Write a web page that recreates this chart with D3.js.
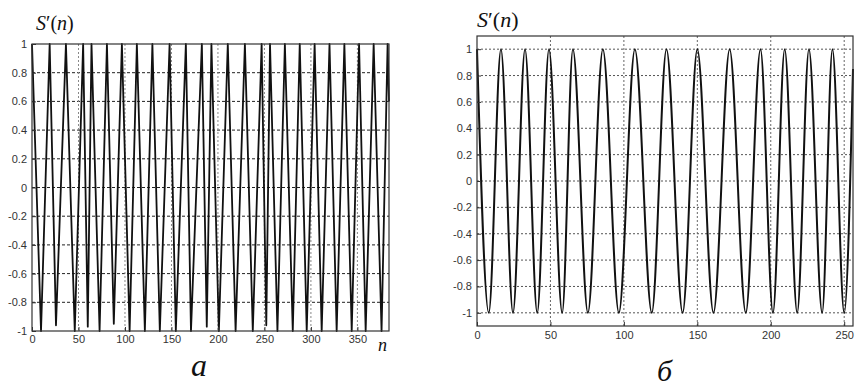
<!DOCTYPE html>
<html>
<head>
<meta charset="utf-8">
<script src="https://cdn.jsdelivr.net/npm/d3@7"></script>
<style>
  body { margin: 0; background: #fff; }
  svg { display: block; }
  .tick text { font-family: "Liberation Sans", Arial, sans-serif; font-size: 11px; fill: #333; }
</style>
</head>
<body>
<svg width="858" height="386"></svg>
<script>
// panel (a): extrema of S'(n), n from 0 to 384
const leftN = [0, 9.7, 19, 25.8, 36.5, 46, 55, 60, 64, 72.7, 80.6, 88, 96.7, 105, 112.8, 121.4,
  129.5, 137.5, 148, 154.7, 165.5, 171, 182.7, 188, 193, 201, 210.6, 219, 229, 237.5, 247, 252,
  256, 264, 272, 280.5, 288, 295.5, 304, 311.6, 320, 327.7, 336, 343.9, 351.8, 358.9, 367.5, 376, 382.5, 384];
const leftS = [1, -1, 1, -0.96, 1, -1, 1, -0.97, 1, -1, 1, -0.95, 1, -1, 1, -1,
  1, -1, 1, -1, 1, -1, 1, -0.97, 1, -1, 1, -1, 1, -1, 1, -0.96,
  1, -1, 1, -1, 1, -1, 1, -1, 1, -1, 1, -1, 1, -1, 1, -1, 1, 0.6];

// panel (б): extrema of S'(n), n from 0 to 256
const rightN = [0, 8, 16.3, 24.5, 32.7, 41, 49, 58, 65.3, 75.5, 85.7, 96.6, 107.5, 119, 129,
  140, 150, 161, 172, 183, 193, 201.5, 209.5, 218, 226, 235, 242, 250, 256];
const rightS = [1, -1, 1, -1, 1, -1, 1, -1, 1, -1, 1, -1, 1, -1, 1,
  -1, 1, -1, 1, -1, 1, -1, 1, -1, 1, -1, 1, -1, 0.85];

const yTicks = [-1, -0.8, -0.6, -0.4, -0.2, 0, 0.2, 0.4, 0.6, 0.8, 1];
const leftXTicks = [0, 50, 100, 150, 200, 250, 300, 350];
const rightXTicks = [0, 50, 100, 150, 200, 250];

const serif = '"Liberation Serif", "Times New Roman", "DejaVu Serif", serif';
const svg = d3.select('svg');

function panel(opt) {
  const x = d3.scaleLinear().domain(opt.xDomain).range([opt.x0, opt.x1]);
  const y = d3.scaleLinear().domain(opt.yDomain).range([opt.y1, opt.y0]);
  const g = svg.append('g');

  // grid
  g.selectAll('.hg').data(yTicks.filter(v => y(v) > opt.y0 + 1 && y(v) < opt.y1 - 1)).enter()
    .append('line')
    .attr('x1', opt.x0).attr('x2', opt.x1)
    .attr('y1', d => y(d)).attr('y2', d => y(d))
    .attr('stroke', opt.hGridColor).attr('stroke-width', 1)
    .attr('stroke-dasharray', opt.hDash);
  g.selectAll('.vg').data(opt.xTicks.filter(v => v > opt.xDomain[0])).enter()
    .append('line')
    .attr('x1', d => x(d)).attr('x2', d => x(d))
    .attr('y1', opt.y0).attr('y2', opt.y1)
    .attr('stroke', opt.vGridColor).attr('stroke-width', 1)
    .attr('stroke-dasharray', opt.vDash);

  // signal
  const pts = opt.n.map((n, i) => [n, opt.s[i]]);
  const line = d3.line().x(d => x(d[0])).y(d => y(d[1])).curve(opt.curve);
  g.append('path')
    .attr('d', line(pts))
    .attr('fill', 'none')
    .attr('stroke', '#111')
    .attr('stroke-width', opt.lw)
    .attr('stroke-linejoin', 'round');

  // axes
  const ax = g.append('g').attr('transform', 'translate(0,' + opt.y1 + ')')
    .call(d3.axisBottom(x).tickValues(opt.xTicks).tickSize(-4).tickPadding(opt.xPad).tickFormat(d3.format('d')));
  const ay = g.append('g').attr('transform', 'translate(' + opt.x0 + ',0)')
    .call(d3.axisLeft(y).tickValues(yTicks).tickSize(-4).tickPadding(5).tickFormat(d => String(d)));
  [ax, ay].forEach(a => {
    a.select('.domain').remove();
    a.selectAll('.tick line').attr('stroke', '#333');
  });

  g.append('rect')
    .attr('x', opt.x0).attr('y', opt.y0)
    .attr('width', opt.x1 - opt.x0).attr('height', opt.y1 - opt.y0)
    .attr('fill', 'none').attr('stroke', '#333').attr('stroke-width', 1.2);
  return g;
}

panel({
  x0: 32, x1: 389, y0: 44, y1: 331,
  xDomain: [0, 384], yDomain: [-1, 1],
  n: leftN, s: leftS, xTicks: leftXTicks, xPad: 4, lw: 1.8,
  hGridColor: '#222', hDash: '3,2', vGridColor: '#888', vDash: '2,2',
  curve: d3.curveLinear
});

panel({
  x0: 477, x1: 853, y0: 36, y1: 326,
  xDomain: [0, 256], yDomain: [-1.1, 1.1],
  n: rightN, s: rightS, xTicks: rightXTicks, xPad: 5, lw: 2,
  hGridColor: '#555', hDash: '2,2', vGridColor: '#666', vDash: '2,2',
  curve: d3.curveMonotoneX
});

// labels
function mathLabel(x, y, size, parts) {
  const t = svg.append('text').attr('x', x).attr('y', y)
    .attr('font-family', serif).attr('font-size', size).attr('fill', '#111');
  parts.forEach(p => t.append('tspan').attr('font-style', p[1] ? 'italic' : 'normal').text(p[0]));
}
mathLabel(36, 30, 20, [['S', 1], ['′(', 0], ['n', 1], [')', 0]]);
mathLabel(477, 27, 22, [['S', 1], ['′(', 0], ['n', 1], [')', 0]]);
mathLabel(378, 351, 18, [['n', 1]]);
mathLabel(191, 376, 32, [['a', 1]]);
mathLabel(657, 381, 30, [['б', 1]]);
</script>
</body>
</html>
